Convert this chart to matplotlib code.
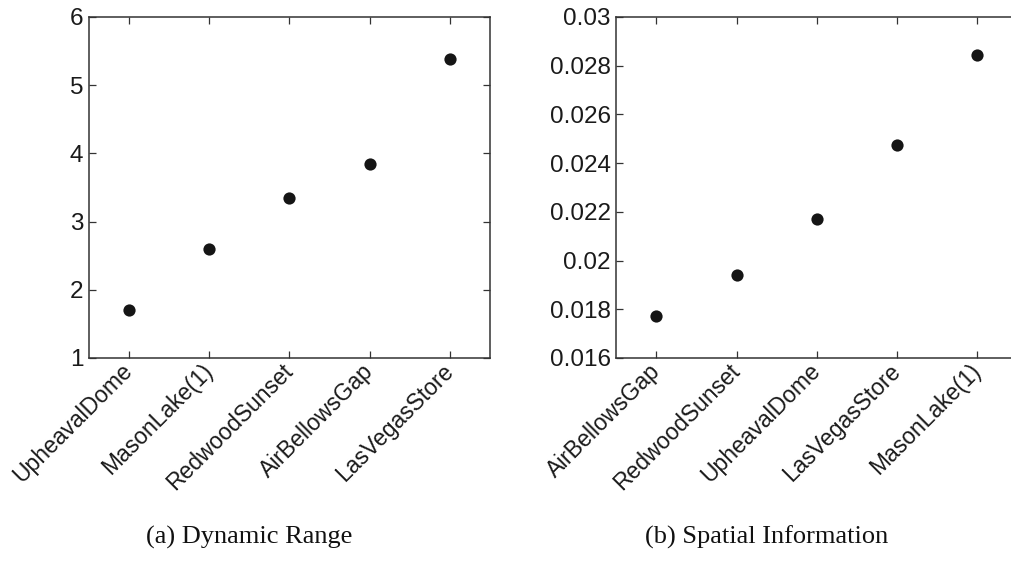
import matplotlib
matplotlib.use('Agg')
import matplotlib.pyplot as plt
import numpy as np

# (a) Dynamic Range
dr_names = ['UpheavalDome', 'MasonLake(1)', 'RedwoodSunset', 'AirBellowsGap', 'LasVegasStore']
dr_values = [1.70, 2.60, 3.34, 3.85, 5.38]
dr_yticks = [1, 2, 3, 4, 5, 6]

# (b) Spatial Information
si_names = ['AirBellowsGap', 'RedwoodSunset', 'UpheavalDome', 'LasVegasStore', 'MasonLake(1)']
si_values = [0.01772, 0.01939, 0.02169, 0.02474, 0.02842]
si_yticks = [0.016, 0.018, 0.020, 0.022, 0.024, 0.026, 0.028, 0.030]

captions = ['(a) Dynamic Range', '(b) Spatial Information']

plt.rcParams['font.family'] = ['Liberation Sans', 'DejaVu Sans']

fig = plt.figure(figsize=(10.11, 5.66), dpi=100)
ax1 = fig.add_axes([0.088, 0.3675, 0.3967, 0.6025])
ax2 = fig.add_axes([0.6096, 0.3675, 0.3967, 0.6025])


def scatter_panel(ax, names, values, yticks):
    x = np.arange(1, len(names) + 1)
    ax.plot(x, values, 'o', color='#151515', markersize=8.8, markeredgewidth=0)
    ax.set_xlim(0.5, len(names) + 0.5)
    ax.set_ylim(yticks[0], yticks[-1])
    ax.set_yticks(yticks)
    ax.set_yticklabels(['%g' % v for v in yticks])
    ax.set_xticks(x)
    ax.set_xticklabels(names, rotation=45, ha='right', va='center',
                       rotation_mode='anchor')
    ax.tick_params(direction='in', length=5, width=0.9, top=True, right=True,
                   labelsize=17.5, colors='#333333', labelcolor='#1a1a1a')
    ax.tick_params(axis='y', pad=4)
    ax.tick_params(axis='x', pad=7, labelsize=16.5)
    for s in ax.spines.values():
        s.set_color('#333333')
        s.set_linewidth(1.1)


scatter_panel(ax1, dr_names, dr_values, dr_yticks)
scatter_panel(ax2, si_names, si_values, si_yticks)
# right edge of panel (b) is cut off in the original
ax2.tick_params(right=False)

fig.text(0.246, 0.051, captions[0], ha='center', va='center',
         family='Liberation Serif', fontsize=19, color='#111111')
fig.text(0.758, 0.051, captions[1], ha='center', va='center',
         family='Liberation Serif', fontsize=19, color='#111111')

fig.savefig('out.png', dpi=100)
